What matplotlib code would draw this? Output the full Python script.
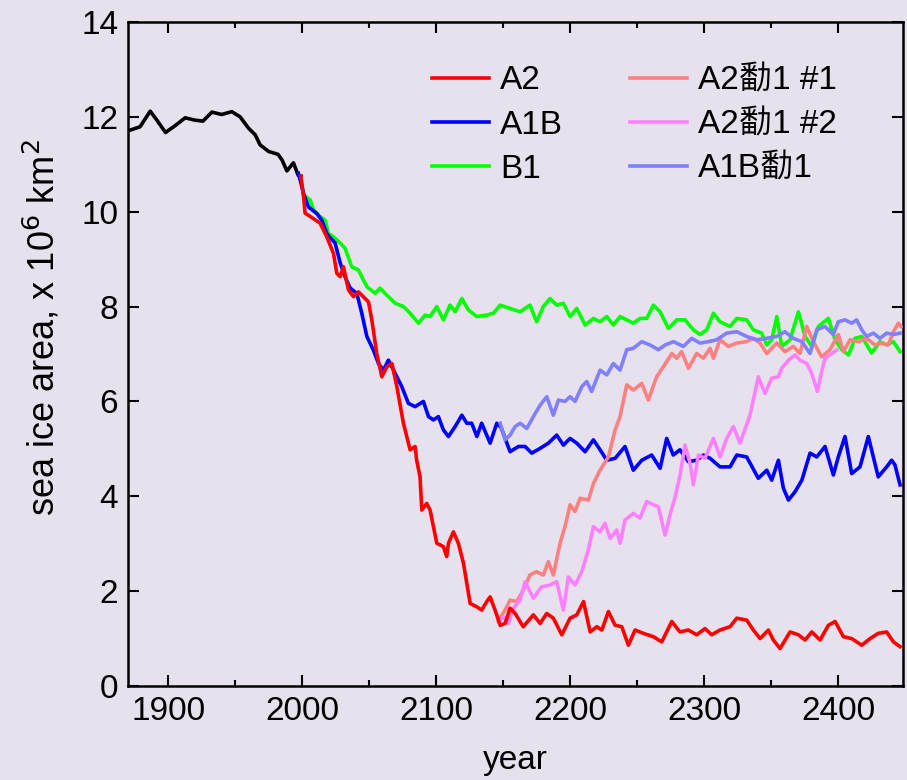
import matplotlib
matplotlib.use('Agg')
import matplotlib.pyplot as plt
from matplotlib.ticker import MultipleLocator

plt.rcParams['font.family'] = ['Liberation Sans', 'Noto Sans CJK SC', 'DejaVu Sans']

bg = '#e6e1ed'

# historical record
hist_yr = [1871.6, 1879, 1886.6, 1891.6, 1898, 1905, 1912.7, 1920, 1926, 1932.6, 1940, 1947.5,
           1953.7, 1960, 1965, 1968.6, 1975, 1982, 1985, 1988.6, 1993.5, 1997, 1999]
hist_val = [11.72, 11.79, 12.12, 11.93, 11.67, 11.81, 11.98, 11.93, 11.91, 12.1, 12.05, 12.11,
            12.0, 11.76, 11.62, 11.41, 11.27, 11.21, 11.09, 10.86, 11.03, 10.77, 10.75]

a2_yr = [1999, 2001, 2002.2, 2006, 2013.4, 2018.4, 2023.4, 2025.9, 2028.4, 2030.8, 2034.6, 2038.3,
         2042, 2049.5, 2052, 2055.7, 2059.5, 2063.2, 2067, 2070.7, 2075.6, 2080.6, 2084.3, 2085.5,
         2088, 2089.3, 2093, 2095.5, 2100.5, 2105.4, 2107.9, 2109.2, 2112.9, 2116.6, 2120.4, 2125.4,
         2130.4, 2134, 2137.8, 2140.3, 2144, 2147.8, 2151.5, 2155.2, 2159, 2165, 2172.6, 2177.6,
         2182.6, 2187.5, 2193.8, 2200, 2205, 2210, 2215, 2220, 2223.7, 2228.6, 2233.6, 2238.6,
         2243.5, 2248.5, 2254.7, 2262.2, 2268.4, 2275.9, 2282, 2288.3, 2294.5, 2300.7, 2305.7,
         2311.9, 2319.4, 2324.4, 2331.8, 2336.8, 2341.8, 2348, 2351.7, 2356.7, 2364.2, 2370.4,
         2375.4, 2380.4, 2386.6, 2392.8, 2397.8, 2404, 2410.2, 2417.7, 2423.9, 2430, 2436.3,
         2441.3, 2446.3]
a2_val = [10.75, 10.33, 9.97, 9.9, 9.76, 9.47, 9.12, 8.7, 8.63, 8.84, 8.35, 8.21,
          8.31, 8.1, 7.72, 7.01, 6.52, 6.73, 6.8, 6.31, 5.54, 4.98, 5.05, 4.76,
          4.41, 3.71, 3.85, 3.71, 3.01, 2.94, 2.73, 3.01, 3.25, 3.01, 2.59, 1.74,
          1.67, 1.6, 1.78, 1.88, 1.6, 1.28, 1.32, 1.64, 1.53, 1.25, 1.5, 1.32,
          1.53, 1.43, 1.08, 1.43, 1.5, 1.78, 1.14, 1.25, 1.18, 1.57, 1.28, 1.25,
          0.86, 1.18, 1.11, 1.04, 0.93, 1.36, 1.14, 1.18, 1.08, 1.21, 1.08,
          1.18, 1.25, 1.43, 1.39, 1.18, 1.0, 1.18, 0.97, 0.79, 1.14, 1.08,
          0.97, 1.14, 0.97, 1.28, 1.36, 1.04, 1.0, 0.86, 1.0, 1.11, 1.14,
          0.93, 0.83]

a1b_yr = [1997.2, 2001, 2004.7, 2011, 2014.7, 2018.4, 2020.9, 2024.6, 2028.4, 2032, 2035.8,
          2040.8, 2044.5, 2048.3, 2053.2, 2057, 2060.7, 2064.4, 2068.2, 2074.4, 2079.3, 2084.3,
          2090.5, 2094.3, 2098, 2101.7, 2105.4, 2109.2, 2114.2, 2119.2, 2122.9, 2126.6, 2130.4,
          2134, 2140.3, 2145.3, 2148.5, 2155.2, 2161.4, 2166.4, 2171.4, 2177.6, 2183.8, 2190,
          2195, 2200, 2205, 2211.2, 2217.4, 2222.4, 2227.4, 2233.6, 2241, 2247.2, 2253.5, 2260.9,
          2267.2, 2272.1, 2277, 2282, 2288.3, 2294.5, 2299.5, 2304.5, 2311.9, 2319.4, 2324.4,
          2331.8, 2340.5, 2346.8, 2350.5, 2355.5, 2359.2, 2363, 2368, 2373, 2379.1, 2384.1,
          2390.3, 2396.5, 2400.2, 2405.2, 2410.2, 2416.4, 2422.6, 2430, 2436.3, 2440, 2442.5,
          2446.3]
a1b_val = [10.81, 10.39, 10.1, 9.96, 9.82, 9.54, 9.45, 9.34, 8.92, 8.63, 8.39,
           8.28, 7.86, 7.37, 7.08, 6.8, 6.66, 6.87, 6.66, 6.31, 5.96, 5.89,
           6.0, 5.68, 5.61, 5.68, 5.4, 5.26, 5.47, 5.71, 5.54, 5.54, 5.26,
           5.54, 5.12, 5.54, 5.45, 4.94, 5.05, 5.05, 4.91, 5.01, 5.12, 5.29,
           5.08, 5.22, 5.12, 4.94, 5.19, 4.98, 4.76, 4.8, 5.05, 4.55, 4.76, 4.87,
           4.59, 5.22, 4.87, 4.98, 4.73, 4.76, 4.87, 4.8, 4.62, 4.62, 4.87,
           4.83, 4.38, 4.55, 4.34, 4.76, 4.17, 3.92, 4.1, 4.34, 4.91, 4.83,
           5.05, 4.45, 4.83, 5.26, 4.48, 4.62, 5.26, 4.41, 4.62, 4.76, 4.66,
           4.24]

b1_yr = [1999, 2001, 2006, 2008.4, 2013.4, 2017.2, 2019.6, 2023.4, 2028.4, 2032, 2037, 2042,
         2048.3, 2054.5, 2058.2, 2063.2, 2069.4, 2075.6, 2080.6, 2086.8, 2091.8, 2095.5, 2100.5,
         2105.4, 2110.4, 2114.2, 2119.2, 2124, 2130.4, 2137.8, 2142.8, 2147.8, 2155.2, 2162.7,
         2170, 2175, 2180, 2185, 2190, 2195, 2200, 2205, 2211.2, 2217.4, 2222.4, 2227.4, 2232.3,
         2237.3, 2242.3, 2247.2, 2252.2, 2257.2, 2262.2, 2267.2, 2273.4, 2279.6, 2285.8, 2292,
         2297, 2302, 2307, 2311.9, 2319.4, 2324.4, 2331.8, 2336.8, 2343, 2346.8, 2350.5, 2354.3,
         2358, 2364.2, 2370.4, 2375.4, 2380.4, 2385.3, 2392.8, 2397.8, 2402.8, 2407.8, 2412.7,
         2417.7, 2425.1, 2431.3, 2436.3, 2441.3, 2446.3]
b1_val = [10.75, 10.35, 10.25, 10.04, 9.9, 9.82, 9.54, 9.47, 9.34, 9.23, 8.84, 8.77,
          8.42, 8.28, 8.39, 8.24, 8.07, 8.0, 7.86, 7.65, 7.82, 7.79, 8.0,
          7.72, 8.03, 7.89, 8.17, 7.93, 7.79, 7.82, 7.86, 8.03, 7.96, 7.89,
          8.03, 7.68, 8.0, 8.17, 8.03, 8.07, 7.79, 7.96, 7.61, 7.75, 7.68, 7.79, 7.61,
          7.79, 7.72, 7.65, 7.75, 7.75, 8.03, 7.89, 7.54, 7.72, 7.72, 7.51,
          7.41, 7.51, 7.86, 7.68, 7.58, 7.75, 7.72, 7.51, 7.44, 7.19, 7.3, 7.79,
          7.16, 7.3, 7.89, 7.37, 7.16, 7.58, 7.75, 7.3, 7.09, 6.98, 7.33,
          7.37, 7.02, 7.26, 7.19, 7.26, 7.05]

r1_yr = [2146.5, 2151.5, 2155.2, 2160.2, 2165, 2170, 2175, 2180, 2183.8, 2187.5, 2192.5,
         2196.2, 2200, 2203.7, 2207.5, 2213.7, 2217.4, 2222.4, 2228.6, 2233.6, 2237.3, 2242.3,
         2247.2, 2253.5, 2258.4, 2264.6, 2269.6, 2275.9, 2279.6, 2283.3, 2288.3, 2294.5, 2299.5,
         2304.5, 2307, 2311.9, 2318.1, 2324.4, 2331.8, 2336.8, 2341.8, 2346.8, 2354.3, 2360.4,
         2366.6, 2371.6, 2376.6, 2381.6, 2387.8, 2394, 2400.2, 2404, 2409, 2415.1, 2421.3,
         2427.6, 2432.5, 2437.5, 2441.3, 2445, 2447]
r1_val = [1.39, 1.6, 1.81, 1.78, 2.02, 2.34, 2.41, 2.34, 2.62, 2.34, 3.01,
          3.36, 3.82, 3.68, 3.96, 3.92, 4.27, 4.55, 4.83, 5.4, 5.68, 6.35,
          6.24, 6.38, 6.03, 6.52, 6.73, 7.01, 6.91, 7.05, 6.7, 7.01, 6.91,
          7.12, 6.91, 7.3, 7.16, 7.23, 7.26, 7.33, 7.23, 7.01, 7.23, 7.05,
          7.16, 7.01, 7.58, 7.26, 6.94, 7.09, 7.41, 7.05, 7.3, 7.26, 7.33,
          7.19, 7.23, 7.19, 7.47, 7.65, 7.58]

r2_yr = [2146.5, 2150.2, 2154, 2157.7, 2162.7, 2166.4, 2172.6, 2178.7, 2185, 2190, 2195,
         2198.7, 2203.7, 2208.7, 2213.7, 2217.4, 2222.4, 2226.1, 2229.9, 2234.8, 2237.3, 2241,
         2247.2, 2252.2, 2257.2, 2262.2, 2265.9, 2270.9, 2274.6, 2278.4, 2282.1, 2285.8, 2289.6,
         2292, 2295.8, 2300.7, 2307, 2312, 2316.9, 2321.9, 2326.9, 2334.3, 2340.5, 2345.5,
         2350.5, 2355.5, 2358, 2363, 2368, 2371.6, 2376.6, 2380.4, 2384.6, 2387.8, 2390.3,
         2395.3, 2399]
r2_val = [1.35, 1.46, 1.32, 1.64, 1.81, 2.2, 1.85, 2.09, 2.13, 2.2, 1.6,
          2.3, 2.13, 2.41, 2.87, 3.36, 3.25, 3.43, 3.11, 3.29, 3.01, 3.5,
          3.64, 3.54, 3.89, 3.82, 3.78, 3.18, 3.61, 3.99, 4.45, 5.08, 4.69,
          4.24, 4.87, 4.8, 5.22, 4.83, 5.22, 5.47, 5.12, 5.71, 6.52, 6.17,
          6.49, 6.52, 6.7, 6.87, 6.98, 6.87, 6.8, 6.59, 6.21, 6.63, 6.91,
          7.01, 7.08]

b1x_yr = [2147.8, 2151.5, 2155.2, 2159, 2162.7, 2167.7, 2172.6, 2177.6, 2182.6, 2187.5,
          2191.3, 2196.2, 2200, 2203.7, 2208.7, 2212.4, 2216.1, 2222.4, 2227.4, 2232.3, 2237.3,
          2242.3, 2247.2, 2253.5, 2259.7, 2265.9, 2270.9, 2277.1, 2284.6, 2290.8, 2297, 2303.2,
          2309.5, 2316.9, 2324.4, 2331.8, 2339.3, 2346.8, 2354.3, 2360.4, 2366.6, 2373, 2379.1,
          2384.1, 2390.3, 2396.5, 2400.2, 2405.2, 2410.2, 2413.9, 2417.7, 2421.3, 2426.4,
          2431.3, 2436.3, 2441.3, 2446.3]
b1x_val = [5.54, 5.19, 5.29, 5.47, 5.54, 5.43, 5.68, 5.92, 6.1, 5.71,
           6.03, 6.0, 6.1, 6.0, 6.31, 6.42, 6.21, 6.66, 6.56, 6.8, 6.66,
           7.09, 7.12, 7.26, 7.19, 7.09, 7.19, 7.26, 7.16, 7.33, 7.23, 7.26,
           7.3, 7.44, 7.47, 7.37, 7.3, 7.33, 7.37, 7.47, 7.33, 7.26, 7.01,
           7.51, 7.58, 7.41, 7.68, 7.72, 7.65, 7.72, 7.51, 7.37, 7.44,
           7.33, 7.44, 7.41, 7.44]

fig = plt.figure(figsize=(9.07, 7.80), dpi=100, facecolor=bg)
ax = fig.add_axes([0.1411, 0.1205, 0.8545, 0.8513], facecolor=bg)

lw = 2.6
ax.plot(hist_yr, hist_val, color='black', lw=lw, zorder=3)
h_b1, = ax.plot(b1_yr, b1_val, color='#00ff00', lw=lw, label='B1', zorder=2)
h_a1b, = ax.plot(a1b_yr, a1b_val, color='#0000ff', lw=lw, label='A1B', zorder=3)
h_a2, = ax.plot(a2_yr, a2_val, color='#ff0000', lw=lw, label='A2', zorder=4)
h_r1, = ax.plot(r1_yr, r1_val, color='#ff8080', lw=lw, label='A2勫1 #1', zorder=3)
h_r2, = ax.plot(r2_yr, r2_val, color='#ff80ff', lw=lw, label='A2勫1 #2', zorder=3)
h_bx, = ax.plot(b1x_yr, b1x_val, color='#8080ff', lw=lw, label='A1B勫1', zorder=3)

ax.set_xlim(1870, 2448.5)
ax.set_ylim(0, 14)
ax.xaxis.set_major_locator(MultipleLocator(100))
ax.xaxis.set_minor_locator(MultipleLocator(50))
ax.yaxis.set_major_locator(MultipleLocator(2))
ax.tick_params(which='both', direction='in', top=True, right=True, width=1.5,
               labelsize=24, pad=7)
ax.tick_params(which='major', length=8)
ax.tick_params(which='minor', length=4)
for s in ax.spines.values():
    s.set_linewidth(1.8)

ax.set_xlabel('year', fontsize=24, labelpad=13)
ax.set_ylabel('sea ice area, x 10$^6$ km$^2$', fontsize=26)
ax.yaxis.set_label_coords(-0.084, 0.54)

leg = ax.legend(handles=[h_a2, h_a1b, h_b1, h_r1, h_r2, h_bx], ncol=2, frameon=False,
                fontsize=24, loc='upper left', bbox_to_anchor=(0.375, 0.955),
                handlelength=1.7, handletextpad=0.35, columnspacing=2.0,
                labelspacing=0.4, borderaxespad=0)

fig.savefig('out.png', dpi=100, facecolor=bg)
